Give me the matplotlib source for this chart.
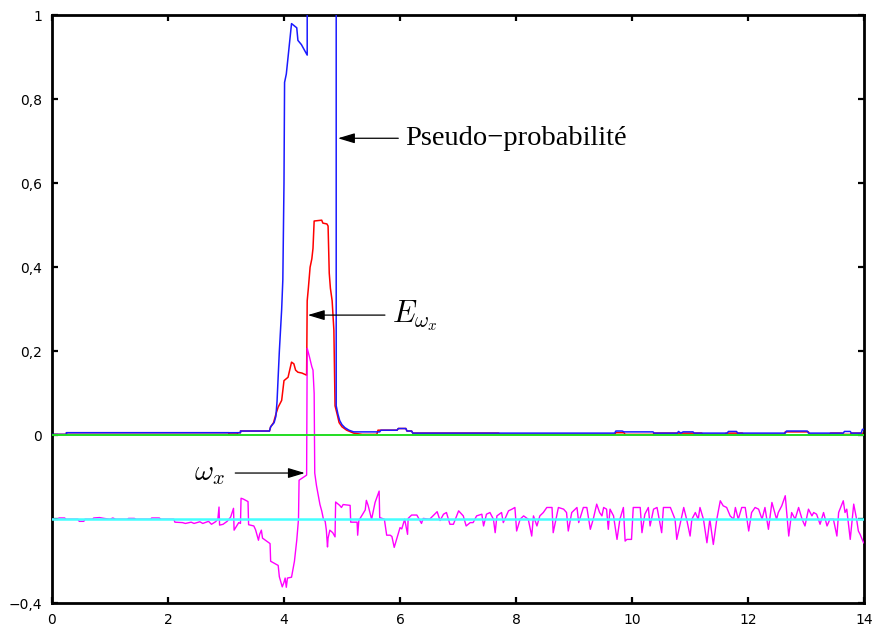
import matplotlib
matplotlib.use("Agg")
import matplotlib.pyplot as plt

plt.rcParams["mathtext.fontset"] = "cm"

# Pseudo-probabilité (blue), as (t, value) pairs
BLUE = [
    (0.00, 0.002), (0.25, 0.002), (0.25, 0.006), (3.25, 0.006), (3.25, 0.010),
    (3.75, 0.010), (3.77, 0.020), (3.83, 0.030), (3.86, 0.045), (3.88, 0.080),
    (3.90, 0.140), (3.92, 0.200), (3.94, 0.250), (3.96, 0.300), (3.98, 0.370),
    (4.00, 0.600), (4.01, 0.840), (4.04, 0.860), (4.07, 0.900), (4.10, 0.940),
    (4.13, 0.980), (4.22, 0.970), (4.24, 0.940), (4.30, 0.930), (4.40, 0.905),
    (4.40, 1.200), (4.90, 1.200), (4.90, 0.070), (4.93, 0.050), (4.96, 0.035),
    (5.00, 0.025), (5.05, 0.018), (5.12, 0.012), (5.20, 0.008), (5.65, 0.008),
    (5.67, 0.012), (5.95, 0.012), (5.97, 0.016), (6.10, 0.016), (6.12, 0.010),
    (6.20, 0.010), (6.22, 0.005), (9.70, 0.005), (9.72, 0.010), (9.83, 0.010),
    (9.86, 0.008), (10.36, 0.008), (10.38, 0.005), (10.78, 0.005), (10.80, 0.009),
    (10.84, 0.005), (10.88, 0.008), (11.05, 0.008), (11.07, 0.005), (11.64, 0.005),
    (11.66, 0.009), (11.80, 0.009), (11.82, 0.005), (12.64, 0.005), (12.66, 0.010),
    (13.02, 0.010), (13.04, 0.005), (13.64, 0.005), (13.66, 0.009), (13.76, 0.009),
    (13.78, 0.005), (13.95, 0.005), (13.97, 0.014), (14.00, 0.014),
]

# E_wx (red)
RED = [
    (0.00, 0.002), (0.25, 0.002), (0.25, 0.006), (3.05, 0.006), (3.05, 0.003),
    (3.20, 0.003), (3.20, 0.006), (3.25, 0.006), (3.25, 0.010), (3.75, 0.010),
    (3.77, 0.020), (3.82, 0.030), (3.86, 0.050), (3.90, 0.067), (3.96, 0.083),
    (4.00, 0.130), (4.07, 0.138), (4.13, 0.174), (4.17, 0.170), (4.20, 0.155),
    (4.24, 0.150), (4.31, 0.148), (4.39, 0.143), (4.40, 0.320), (4.42, 0.350),
    (4.45, 0.400), (4.48, 0.420), (4.50, 0.445), (4.52, 0.510), (4.65, 0.512),
    (4.67, 0.505), (4.74, 0.503), (4.76, 0.498), (4.78, 0.386), (4.80, 0.350),
    (4.83, 0.320), (4.86, 0.250), (4.88, 0.070), (4.92, 0.048), (4.95, 0.030),
    (5.00, 0.020), (5.08, 0.012), (5.20, 0.005), (5.35, 0.002), (5.60, 0.002),
    (5.62, 0.012), (5.95, 0.012), (5.97, 0.016), (6.10, 0.016), (6.12, 0.010),
    (6.20, 0.010), (6.22, 0.005), (7.70, 0.005), (7.72, 0.002), (9.70, 0.002),
    (9.72, 0.006), (9.86, 0.006), (9.88, 0.002), (10.36, 0.002), (10.38, 0.005),
    (11.20, 0.005), (11.22, 0.002), (11.60, 0.002), (11.62, 0.005), (11.90, 0.005),
    (11.92, 0.002), (12.62, 0.002), (12.64, 0.008), (13.04, 0.008), (13.06, 0.002),
    (13.40, 0.002), (13.42, 0.005), (13.62, 0.005), (13.64, 0.002), (13.76, 0.002),
    (13.78, 0.005), (14.00, 0.005),
]

# w_x (magenta), shifted down to the -0.2 baseline
MAGENTA = [
    (0.00, -0.200), (0.10, -0.200), (0.12, -0.197), (0.22, -0.197), (0.24, -0.200),
    (0.45, -0.200), (0.47, -0.205), (0.55, -0.205), (0.57, -0.200), (0.70, -0.200),
    (0.72, -0.197), (0.82, -0.196), (0.90, -0.198), (1.00, -0.200), (1.05, -0.197),
    (1.10, -0.200), (1.30, -0.200), (1.32, -0.198), (1.42, -0.198), (1.45, -0.200),
    (1.70, -0.200), (1.72, -0.197), (1.85, -0.197), (1.88, -0.200), (2.10, -0.200),
    (2.12, -0.207), (2.25, -0.208), (2.30, -0.210), (2.40, -0.207), (2.45, -0.210),
    (2.55, -0.206), (2.60, -0.210), (2.70, -0.205), (2.75, -0.212), (2.82, -0.206),
    (2.86, -0.200), (2.88, -0.171), (2.89, -0.214), (2.95, -0.212), (3.02, -0.205),
    (3.08, -0.195), (3.13, -0.174), (3.14, -0.226), (3.22, -0.208), (3.25, -0.210),
    (3.26, -0.150), (3.30, -0.152), (3.38, -0.158), (3.39, -0.213), (3.48, -0.216),
    (3.51, -0.225), (3.56, -0.250), (3.58, -0.236), (3.61, -0.226), (3.63, -0.245),
    (3.76, -0.258), (3.77, -0.300), (3.90, -0.310), (3.92, -0.337), (3.97, -0.361),
    (4.00, -0.350), (4.02, -0.340), (4.04, -0.362), (4.06, -0.340), (4.13, -0.338),
    (4.18, -0.300), (4.22, -0.250), (4.25, -0.200), (4.26, -0.107), (4.39, -0.095),
    (4.40, 0.207), (4.44, 0.186), (4.48, 0.163), (4.50, 0.155), (4.52, 0.100),
    (4.53, -0.090), (4.56, -0.120), (4.59, -0.143), (4.62, -0.165), (4.65, -0.180),
    (4.68, -0.200), (4.71, -0.205), (4.73, -0.226), (4.75, -0.266), (4.76, -0.245),
    (4.79, -0.226), (4.84, -0.232), (4.88, -0.242), (4.89, -0.159), (4.96, -0.167),
    (4.99, -0.172), (5.02, -0.165), (5.14, -0.167), (5.15, -0.207), (5.26, -0.207),
    (5.27, -0.238), (5.29, -0.203), (5.40, -0.178), (5.42, -0.155), (5.45, -0.167),
    (5.51, -0.200), (5.57, -0.160), (5.64, -0.133), (5.65, -0.196), (5.73, -0.200),
    (5.77, -0.238), (5.83, -0.238), (5.86, -0.241), (5.90, -0.267), (6.00, -0.220),
    (6.03, -0.223), (6.08, -0.200), (6.13, -0.236), (6.14, -0.198), (6.20, -0.190),
    (6.29, -0.190), (6.37, -0.210), (6.40, -0.198), (6.51, -0.200), (6.64, -0.182),
    (6.69, -0.203), (6.75, -0.188), (6.80, -0.184), (6.86, -0.212), (6.92, -0.212),
    (7.01, -0.180), (7.09, -0.192), (7.14, -0.216), (7.21, -0.208), (7.26, -0.208),
    (7.32, -0.192), (7.41, -0.188), (7.44, -0.216), (7.49, -0.188), (7.55, -0.184),
    (7.61, -0.200), (7.64, -0.232), (7.67, -0.192), (7.75, -0.184), (7.78, -0.208),
    (7.87, -0.180), (7.93, -0.176), (7.98, -0.172), (8.01, -0.228), (8.07, -0.200),
    (8.13, -0.192), (8.21, -0.200), (8.27, -0.240), (8.30, -0.192), (8.36, -0.216),
    (8.41, -0.192), (8.47, -0.184), (8.53, -0.172), (8.62, -0.172), (8.64, -0.232),
    (8.73, -0.172), (8.82, -0.176), (8.87, -0.184), (8.90, -0.228), (8.96, -0.184),
    (9.02, -0.176), (9.05, -0.172), (9.08, -0.208), (9.16, -0.172), (9.22, -0.172),
    (9.28, -0.224), (9.33, -0.200), (9.39, -0.164), (9.44, -0.184), (9.48, -0.192),
    (9.51, -0.172), (9.56, -0.176), (9.59, -0.224), (9.62, -0.176), (9.68, -0.192),
    (9.74, -0.248), (9.79, -0.200), (9.85, -0.172), (9.88, -0.252), (9.91, -0.248),
    (9.99, -0.248), (10.02, -0.172), (10.14, -0.172), (10.17, -0.232), (10.22, -0.188),
    (10.28, -0.172), (10.31, -0.216), (10.37, -0.176), (10.43, -0.172), (10.51, -0.232),
    (10.54, -0.172), (10.66, -0.172), (10.74, -0.200), (10.77, -0.248), (10.89, -0.172),
    (10.94, -0.200), (11.00, -0.240), (11.03, -0.200), (11.09, -0.184), (11.14, -0.200),
    (11.17, -0.172), (11.23, -0.200), (11.29, -0.256), (11.34, -0.200), (11.40, -0.260),
    (11.46, -0.200), (11.52, -0.156), (11.57, -0.168), (11.63, -0.172), (11.69, -0.192),
    (11.75, -0.200), (11.78, -0.172), (11.83, -0.200), (11.89, -0.172), (11.95, -0.172),
    (12.01, -0.228), (12.06, -0.184), (12.12, -0.172), (12.18, -0.176), (12.24, -0.200),
    (12.29, -0.172), (12.35, -0.224), (12.41, -0.160), (12.49, -0.200), (12.52, -0.184),
    (12.58, -0.168), (12.64, -0.144), (12.70, -0.240), (12.75, -0.184), (12.81, -0.200),
    (12.87, -0.172), (12.93, -0.200), (12.98, -0.216), (13.04, -0.176), (13.10, -0.192),
    (13.13, -0.184), (13.18, -0.188), (13.24, -0.212), (13.30, -0.184), (13.36, -0.216),
    (13.41, -0.200), (13.47, -0.200), (13.53, -0.240), (13.56, -0.184), (13.64, -0.156),
    (13.67, -0.184), (13.70, -0.176), (13.76, -0.248), (13.82, -0.164), (13.87, -0.200),
    (13.90, -0.228), (13.93, -0.236), (13.99, -0.256),
]

ZERO_LEVEL = 0.0
OMEGA_BASE = -0.2
X_RANGE = (0, 14)

X_TICKS = [0, 2, 4, 6, 8, 10, 12, 14]
Y_TICKS = [-0.4, -0.2, 0, 0.2, 0.4, 0.6, 0.8, 1]
Y_TICK_LABELS = ["\u22120,4", "", "0", "0,2", "0,4", "0,6", "0,8", "1"]

LABEL_PSEUDO = "Pseudo\u2212probabilité"
LABEL_E = r"$E_{\omega_x}$"
LABEL_OMEGA = r"$\omega_x$"


def unzip(pairs):
    xs = [p[0] for p in pairs]
    ys = [p[1] for p in pairs]
    return xs, ys


fig = plt.figure(figsize=(8.8, 6.33), dpi=100)
ax = fig.add_axes([0.059, 0.047, 0.923, 0.929])

ax.plot(*unzip(RED), color="#ff0000", lw=1.1, zorder=2)
ax.plot(*unzip(BLUE), color="#1a1aff", lw=1.1, zorder=3)
ax.plot(*unzip(MAGENTA), color="#ff00ff", lw=1.0, zorder=4)
ax.plot(X_RANGE, [ZERO_LEVEL, ZERO_LEVEL], color="#22dd22", lw=1.4, zorder=5)
ax.plot(X_RANGE, [OMEGA_BASE, OMEGA_BASE], color="#44ffff", lw=1.8, zorder=5)

ax.set_xlim(*X_RANGE)
ax.set_ylim(-0.4, 1)
ax.set_xticks(X_TICKS)
ax.set_xticklabels([str(v) for v in X_TICKS])
ax.set_yticks(Y_TICKS)
ax.set_yticklabels(Y_TICK_LABELS)
ax.tick_params(direction="in", length=4, width=1.6, labelsize=10,
               top=True, right=True, pad=7)
for spine in ax.spines.values():
    spine.set_linewidth(2.0)

arrow = dict(arrowstyle="-|>,head_length=0.6,head_width=0.18",
             mutation_scale=17, lw=0.9, color="black", shrinkA=0, shrinkB=0)

ax.annotate("", xy=(4.93, 0.707), xytext=(5.97, 0.707), arrowprops=arrow)
ax.text(6.09, 0.707, LABEL_PSEUDO, fontsize=20.5, family="Liberation Serif",
        ha="left", va="center")

ax.annotate("", xy=(4.41, 0.286), xytext=(5.74, 0.286), arrowprops=arrow)
ax.text(5.86, 0.286, LABEL_E, fontsize=22, ha="left", va="center")

ax.annotate("", xy=(4.36, -0.09), xytext=(3.16, -0.09), arrowprops=arrow)
ax.text(2.98, -0.09, LABEL_OMEGA, fontsize=21, ha="right", va="center")

fig.savefig("out.png", dpi=100)
